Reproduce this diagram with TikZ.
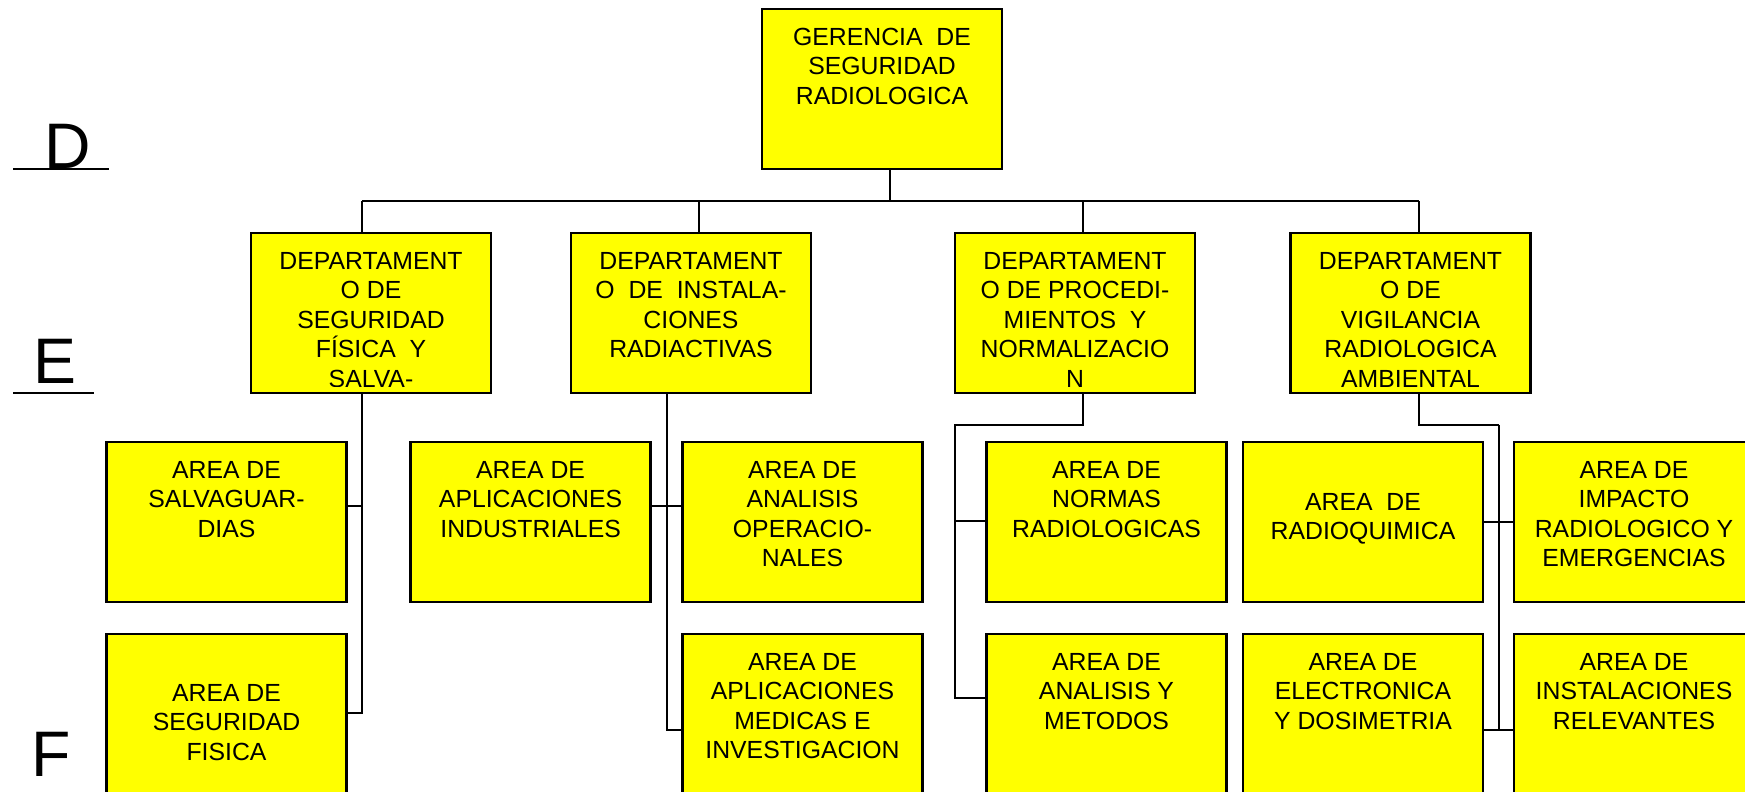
\documentclass[tikz,border=0pt]{standalone}
\usepackage{fontspec}
\setmainfont{Liberation Sans}
\usetikzlibrary{calc,positioning}
\definecolor{amarillo}{RGB}{255,255,0}
\newcommand{\areatxt}[2][.19cm]{\parbox[c][1.6cm][t]{2.4cm}{\centering\vspace*{#1}#2}}

\begin{document}
\begin{tikzpicture}[x=0.01cm,y=-0.01cm,line width=0.75pt,
	unit/.style={draw,fill=amarillo,inner sep=0pt,font=\fontsize{7.05}{8.4}\selectfont},
	lvl/.style={inner sep=0pt,anchor=base west,font=\fontsize{18.3}{20}\selectfont}]
		\clip (0,0) rectangle (1745,792);
		\node[unit] (ger) at (882,89) {\areatxt{GERENCIA~ DE\\SEGURIDAD\\RADIOLOGICA}};
		\node[unit] (dep1) at (371,313) {\areatxt{DEPARTAMENT\\O DE\\SEGURIDAD\\FÍSICA~ Y\\SALVA-}};
		\node[unit] (dep2) at (691,313) {\areatxt{DEPARTAMENT\\O~ DE~ INSTALA-\\CIONES\\RADIACTIVAS}};
		\node[unit] (dep3) at (1075,313) {\areatxt{DEPARTAMENT\\O DE PROCEDI-\\MIENTOS~ Y\\NORMALIZACIO\\N}};
		\node[unit] (dep4) at (1410.5,313) {\areatxt{DEPARTAMENT\\O DE\\VIGILANCIA\\RADIOLOGICA\\AMBIENTAL}};
		\foreach \d in {dep1,dep4}{\fill[amarillo] ([xshift=-1cm,yshift=.02cm]\d.south) rectangle ([xshift=1cm,yshift=.075cm]\d.south);}
		\node[unit] (salv) at (226.5,522) {\areatxt{AREA DE\\SALVAGUAR-\\DIAS}};
		\node[unit] (segf) at (226.5,714) {\areatxt[.5cm]{AREA DE\\SEGURIDAD\\FISICA}};
		\node[unit] (apind) at (530.6,522) {\areatxt{AREA DE\\APLICACIONES\\INDUSTRIALES}};
		\node[unit] (anop) at (802.5,522) {\areatxt{AREA DE\\ANALISIS\\OPERACIO-\\NALES}};
		\node[unit] (apmed) at (802.5,714) {\areatxt{AREA DE\\APLICACIONES\\MEDICAS E\\INVESTIGACION}};
		\node[unit] (norm) at (1106.5,522) {\areatxt{AREA DE\\NORMAS\\RADIOLOGICAS}};
		\node[unit] (anmet) at (1106.5,714) {\areatxt{AREA DE\\ANALISIS Y\\METODOS}};
		\node[unit] (rquim) at (1363,522) {\areatxt[.51cm]{AREA~ DE\\RADIOQUIMICA}};
		\node[unit] (elec) at (1363,714) {\areatxt{AREA DE\\ELECTRONICA\\Y DOSIMETRIA}};
		\node[unit] (impac) at (1634,522) {\areatxt{AREA DE\\IMPACTO\\RADIOLOGICO Y\\EMERGENCIAS}};
		\node[unit] (inst) at (1634,714) {\areatxt{AREA DE\\INSTALACIONES\\RELEVANTES}};
		\coordinate (bus) at (890,201);
		\coordinate (b1) at (362,201);
		\coordinate (b2) at (699,201);
		\coordinate (b3) at (1083,201);
		\coordinate (b4) at (1419,201);
		\draw (ger.south -| bus)--(bus) (b1)--(b4);
		\foreach \i in {1,...,4}{\draw (b\i)--(b\i |- dep\i.north);}
		\coordinate (s1) at (362,506);
		\coordinate (s2) at (362,713);
		\draw (dep1.south -| s1)--(s2)--(segf.east |- s2) (s1)--(salv.east |- s1);
		\coordinate (i1) at (667,506);
		\coordinate (i2) at (667,730);
		\draw (dep2.south -| i1)--(i2)--(apmed.west |- i2) (apind.east |- i1)--(anop.west |- i1);
		\coordinate (p0) at (1083,425);
		\coordinate (p1) at (955,425);
		\coordinate (p2) at (955,521);
		\coordinate (p3) at (955,698);
		\draw (dep3.south -| p0)--(p0)--(p1)--(p3)--(anmet.west |- p3) (p2)--(norm.west |- p2);
		\coordinate (v0) at (1419,425);
		\coordinate (v1) at (1499,425);
		\coordinate (v2) at (1499,522);
		\coordinate (v3) at (1499,730);
		\draw (dep4.south -| v0)--(v0)--(v1);
		\draw[line width=0.4pt] (v1)--(v3);
		\draw (rquim.east |- v2)--(impac.west |- v2) (elec.east |- v3)--(inst.west |- v3);
		\node[lvl] (lvD) at (43,169) {D};
		\node[lvl] (lvE) at (32,384) {E};
		\node[lvl] (lvF) at (30,777) {F};
		\draw (13,169)--(109,169) (13,393)--(94,393);
\end{tikzpicture}
\end{document}
